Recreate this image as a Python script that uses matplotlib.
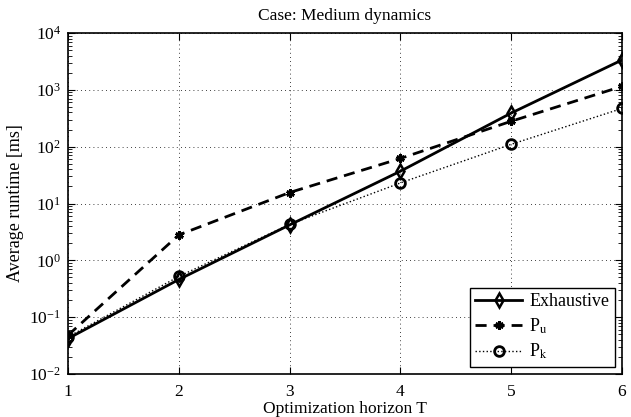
import matplotlib
matplotlib.use("Agg")
import matplotlib.pyplot as plt
from matplotlib.ticker import LogLocator, NullFormatter

plt.rcParams['font.family'] = ['Liberation Serif', 'DejaVu Serif']
plt.rcParams['mathtext.fontset'] = 'stix'

T = [1, 2, 3, 4, 5, 6]
exhaustive = [0.042, 0.46, 4.2, 37, 390, 3350]
p_u = [0.048, 2.8, 15.6, 62, 280, 1150]
p_k = [0.045, 0.52, 4.3, 23, 110, 470]
labels = ['Exhaustive', r'P$_\mathrm{u}$', r'P$_\mathrm{k}$']
title = 'Case: Medium dynamics'
xlabel = 'Optimization horizon T'
ylabel = 'Average runtime [ms]'

fig = plt.figure(figsize=(6.31, 4.17), dpi=100)
ax = fig.add_axes([68/631, 1 - 374/417, (622-68)/631, (374-33)/417])

ax.semilogy(T, exhaustive, '-', color='k', lw=2, marker='d', ms=7, mfc='none', mew=1.8, label=labels[0])
ax.semilogy(T, p_u, '--', color='k', lw=2, marker=(6, 2, 0), ms=6, mew=2, dashes=(4, 2.5), label=labels[1])
ax.semilogy(T, p_k, ':', color='k', lw=1, marker='o', ms=7, mfc='none', mew=2, label=labels[2])

ax.set_xlim(1, 6)
ax.set_ylim(1e-2, 1e4)
ax.set_xticks(T)
ax.yaxis.set_major_locator(LogLocator(base=10, numticks=10))
ax.yaxis.set_minor_locator(LogLocator(base=10, subs=range(2, 10), numticks=100))
ax.yaxis.set_minor_formatter(NullFormatter())
ax.tick_params(which='both', direction='in', top=True, right=True, labelsize=12.5)
ax.tick_params(axis='x', which='major', pad=7)
ax.tick_params(axis='y', which='major', pad=5)
ax.tick_params(which='major', length=5, width=0.8)
ax.tick_params(which='minor', length=3, width=0.6)
ax.grid(True, which='major', linestyle=(0, (1, 4)), color='k', lw=0.6)
for s in ax.spines.values():
    s.set_linewidth(1.2)

ax.set_title(title, fontsize=12.5, pad=9)
ax.set_xlabel(xlabel, fontsize=12.5, labelpad=1)
ax.set_ylabel(ylabel, fontsize=13, labelpad=4)

leg = ax.legend(loc='lower right', fontsize=13, frameon=True, fancybox=False,
                edgecolor='k', framealpha=1, borderaxespad=0.4, handlelength=2.6,
                labelspacing=0.35, borderpad=0.3, handletextpad=0.4)
leg.get_frame().set_linewidth(1.0)

fig.savefig('out.png', dpi=100)
